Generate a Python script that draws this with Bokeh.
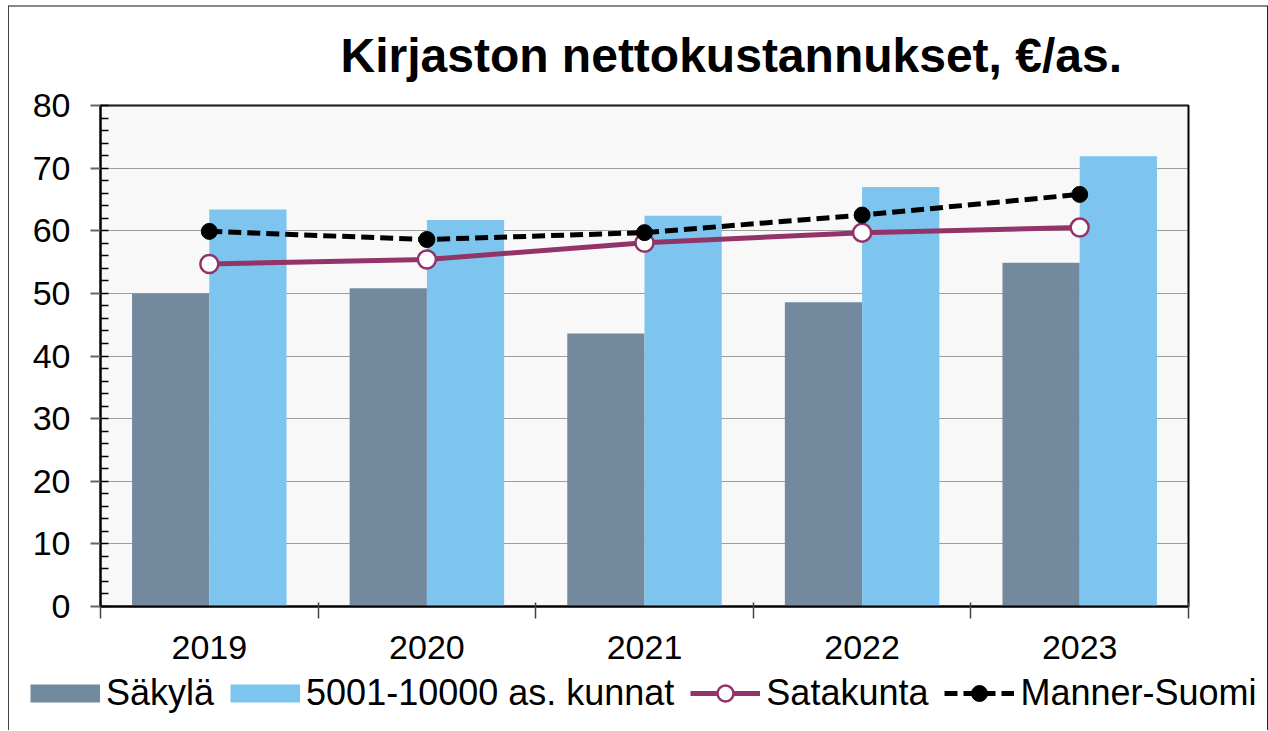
from bokeh.plotting import figure
from bokeh.models import (FixedTicker, Legend, LegendItem, ColumnDataSource, Title, Range1d)
from bokeh.embed import file_html
from bokeh.resources import INLINE

years = ["2019", "2020", "2021", "2022", "2023"]
sakyla = [50.0, 50.8, 43.6, 48.6, 54.9]
kunnat = [63.4, 61.7, 62.4, 67.0, 71.9]
satakunta = [54.7, 55.4, 58.1, 59.7, 60.5]
manner = [59.9, 58.6, 59.7, 62.5, 65.8]
yticks = [0, 10, 20, 30, 40, 50, 60, 70, 80]

xs = [i + 1 for i in range(len(years))]
bw = 0.355
XMIN, XMAX = 0.5, len(years) + 0.5
YMIN, YMAX = 0, 80

# layout: frame covers the whole canvas so the wide legend is not clipped
W, H = 1258, 723
PLOT_L, PLOT_R = 91, 1179      # plot area (px from canvas left)
PLOT_T, PLOT_B = 98, 599       # plot area (px from canvas top)
TOP = 76                       # title panel height
pxx = (PLOT_R - PLOT_L) / (XMAX - XMIN)
pxy = (PLOT_B - PLOT_T) / (YMAX - YMIN)
x_lo = XMIN - PLOT_L / pxx
x_hi = XMAX + (W - PLOT_R) / pxx
y_hi = YMAX + (PLOT_T - TOP) / pxy
y_lo = YMIN - (H - PLOT_B) / pxy

src = ColumnDataSource(dict(
    x=xs,
    x1=[v - bw / 2 for v in xs],
    x2=[v + bw / 2 for v in xs],
    sakyla=sakyla, kunnat=kunnat, satakunta=satakunta, manner=manner,
))

FONT = "Liberation Sans"
C_SAK = "#738a9e"
C_KUN = "#7dc4ee"

p = figure(width=W, height=H, frame_width=W, frame_height=H - TOP,
           output_backend="svg", toolbar_location=None,
           x_range=Range1d(x_lo, x_hi), y_range=Range1d(y_lo, y_hi),
           min_border_left=0, min_border_right=0, min_border_top=TOP,
           min_border_bottom=0)
p.styles = {"border-left": "1px solid #444", "border-top": "2px solid #888",
            "border-right": "1px solid #222", "margin-left": "8px", "margin-top": "5px"}

p.background_fill_color = "white"
p.border_fill_color = "white"
p.outline_line_color = None

# plot area box
p.quad(left=[XMIN], right=[XMAX], bottom=[YMIN], top=[YMAX], fill_color="#f8f8f8",
       line_color="black", line_width=2, level="image")

p.vbar(x="x1", top="sakyla", width=bw, source=src, fill_color=C_SAK, line_color=None)
p.vbar(x="x2", top="kunnat", width=bw, source=src, fill_color=C_KUN, line_color=None)

l1 = p.line(x="x", y="satakunta", source=src, line_color="#933468", line_width=5)
m1 = p.scatter(x="x", y="satakunta", source=src, size=18, fill_color="white",
               line_color="#933468", line_width=2.5)
l2 = p.line(x="x", y="manner", source=src, line_color="black", line_width=5, line_dash="13 6")
m2 = p.scatter(x="x", y="manner", source=src, size=16, fill_color="black", line_color="black")

# legend swatches for the bar series (legend only, nothing drawn in the plot)
nan = float("nan")
sw1 = p.line(x=[nan], y=[nan], line_color=C_SAK, line_width=18, line_cap="butt")
sw2 = p.line(x=[nan], y=[nan], line_color=C_KUN, line_width=18, line_cap="butt")

# grid
p.xgrid.grid_line_color = None
yg = p.ygrid[0]
yg.grid_line_color = "#444444"
yg.grid_line_dash = "1 1"
yg.grid_line_width = 1
if "cross_bounds" in yg.properties():
    yg.cross_bounds = (XMIN, XMAX)
else:
    yg.grid_line_color = None
    p.segment(x0=XMIN, x1=XMAX, y0=yticks[1:], y1=yticks[1:], line_color="#444444",
              line_dash="1 1", line_width=1)

# y axis
p.yaxis.fixed_location = XMIN
p.yaxis.bounds = (YMIN, YMAX)
p.yaxis.ticker = FixedTicker(ticks=yticks, minor_ticks=list(range(0, 81, 2)))
p.yaxis.axis_line_color = "black"
p.yaxis.axis_line_width = 2
p.yaxis.major_tick_in = 0
p.yaxis.major_tick_out = 10
p.yaxis.major_tick_line_color = "#666666"
p.yaxis.major_tick_line_width = 2
p.yaxis.minor_tick_in = 8
p.yaxis.minor_tick_out = 0
p.yaxis.minor_tick_line_color = "black"
p.yaxis.minor_tick_line_width = 1.5
p.yaxis.major_label_text_font = FONT
p.yaxis.major_label_text_font_size = "34px"
p.yaxis.major_label_text_color = "black"
p.yaxis.major_label_standoff = 20

# x axis
p.xaxis.fixed_location = YMIN
p.xaxis.bounds = (XMIN, XMAX)
p.xaxis.ticker = FixedTicker(ticks=xs, minor_ticks=[v - 0.5 for v in xs] + [xs[-1] + 0.5])
p.xaxis.major_label_overrides = {v: y for v, y in zip(xs, years)}
p.xaxis.axis_line_color = "black"
p.xaxis.axis_line_width = 2
p.xaxis.major_tick_line_color = None
p.xaxis.major_tick_in = 0
p.xaxis.major_tick_out = 0
p.xaxis.minor_tick_in = 4
p.xaxis.minor_tick_out = 12
p.xaxis.minor_tick_line_color = "#444444"
p.xaxis.minor_tick_line_width = 1.5
p.xaxis.major_label_text_font = FONT
p.xaxis.major_label_text_font_size = "34px"
p.xaxis.major_label_text_color = "black"
p.xaxis.major_label_standoff = 17

# title
t = Title(text="Kirjaston nettokustannukset, €/as.", align="left", offset=331,
          text_font=FONT, text_font_size="48px", text_font_style="bold",
          text_color="black", standoff=4)
p.add_layout(t, "above")

leg = Legend(items=[
    LegendItem(label="Säkylä", renderers=[sw1]),
    LegendItem(label="5001-10000 as. kunnat", renderers=[sw2]),
    LegendItem(label="Satakunta", renderers=[l1, m1]),
    LegendItem(label="Manner-Suomi", renderers=[l2, m2]),
], orientation="horizontal", location=(21, 16))
leg.label_text_font = FONT
leg.label_text_font_size = "36px"
leg.label_text_color = "black"
leg.glyph_width = 70
leg.glyph_height = 40
leg.label_standoff = 6
leg.spacing = 16
leg.padding = 0
leg.margin = 0
leg.border_line_color = None
leg.background_fill_alpha = 0
p.add_layout(leg, "center")

open("out.html", "w").write(file_html(p, INLINE))
